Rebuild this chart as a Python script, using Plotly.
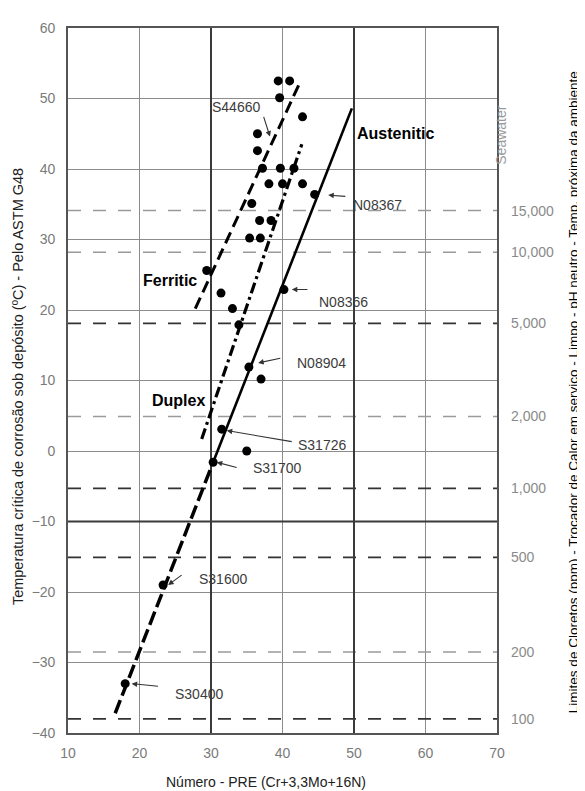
import plotly.graph_objects as go

# ---------------- data ----------------
# measured alloys: PRE number vs critical crevice temperature (°C)
pre_points = [39.4, 41.0, 39.6, 42.8, 36.5, 36.5, 37.2, 39.7, 41.6, 38.1, 40.0, 42.8,
              35.7, 36.8, 38.4, 35.4, 36.9, 44.5, 29.4, 31.4, 33.0, 33.9, 40.2, 35.3,
              37.0, 31.5, 35.0, 30.3, 23.3, 18.0]
cct_points = [52.5, 52.5, 50.1, 47.4, 45.0, 42.6, 40.1, 40.1, 40.1, 37.9, 37.9, 37.9,
              35.1, 32.7, 32.7, 30.2, 30.2, 36.4, 25.6, 22.4, 20.2, 17.9, 22.9, 11.9,
              10.2, 3.1, 0.0, -1.6, -19.0, -33.0]

# trend lines (end points)
ferritic_x = [27.8, 42.45]
ferritic_y = [20.2, 52.3]
duplex_x = [28.7, 42.7]
duplex_y = [1.7, 43.5]
austenitic_x = [30.3, 49.7]
austenitic_y = [-1.6, 48.6]
low_alloy_x = [16.6, 30.3]
low_alloy_y = [-37.2, -1.6]

# chloride limits (ppm) on the right axis and their CCT equivalents
chloride_labels = ["15,000", "10,000", "5,000", "2,000", "1,000", "500", "200", "100"]
chloride_cct = [34.1, 28.2, 18.1, 4.9, -5.3, -15.1, -28.5, -38.0]

# axis ticks
x_ticks = [10, 20, 30, 40, 50, 60, 70]
y_ticks = [-40, -30, -20, -10, 0, 10, 20, 30, 40, 50, 60]

# alloy names with the point each arrow marks
alloy_names = ["N08367", "N08366", "N08904", "S31726", "S31700", "S31600", "S30400", "S44660"]
alloy_pre = [46.4, 41.3, 36.6, 32.2, 30.8, 24.0, 18.9, 38.25]
alloy_cct = [36.3, 22.9, 12.5, 2.9, -1.6, -19.0, -33.0, 44.6]

# ---------------- figure ----------------
FONT = "Liberation Sans, Arial, sans-serif"
fig = go.Figure()

fig.add_trace(go.Scatter(x=low_alloy_x, y=low_alloy_y, mode="lines",
                         line=dict(color="black", width=3.5, dash="14px,5px"),
                         hoverinfo="skip", showlegend=False))
fig.add_trace(go.Scatter(x=ferritic_x, y=ferritic_y, mode="lines",
                         line=dict(color="black", width=3, dash="12px,6px"),
                         hoverinfo="skip", showlegend=False))
fig.add_trace(go.Scatter(x=duplex_x, y=duplex_y, mode="lines",
                         line=dict(color="black", width=3.2, dash="11px,4px,3px,4px"),
                         hoverinfo="skip", showlegend=False))
fig.add_trace(go.Scatter(x=austenitic_x, y=austenitic_y, mode="lines",
                         line=dict(color="black", width=2.6),
                         hoverinfo="skip", showlegend=False))
fig.add_trace(go.Scatter(x=pre_points, y=cct_points, mode="markers",
                         marker=dict(color="black", size=9),
                         hoverinfo="skip", showlegend=False))
# dummy trace so the right axis is drawn
fig.add_trace(go.Scatter(x=[None], y=[None], yaxis="y2", mode="markers",
                         showlegend=False, hoverinfo="skip"))

shapes = []
dark_levels = {"5,000", "1,000", "500", "100"}
for lab, yv in zip(chloride_labels, chloride_cct):
    dark = lab in dark_levels
    shapes.append(dict(type="line", xref="x", yref="y", x0=10, x1=70, y0=yv, y1=yv,
                       layer="between",
                       line=dict(color="#333333" if dark else "#9a9a9a",
                                 width=1.8 if dark else 1.5, dash="13px,12px")))
# heavier grid lines
for xv in (30, 50):
    shapes.append(dict(type="line", xref="x", yref="y", x0=xv, x1=xv, y0=-40, y1=60,
                       layer="between", line=dict(color="#3a3a3a", width=2)))
shapes.append(dict(type="line", xref="x", yref="y", x0=10, x1=70, y0=-10, y1=-10,
                   layer="between", line=dict(color="#3a3a3a", width=2)))

annotations = []
# alloy labels (text) and arrows
label_pos = {
    "N08367": (53.3, 34.9), "N08366": (48.6, 21.2), "N08904": (45.5, 12.5),
    "S31726": (45.5, 0.9), "S31700": (39.2, -2.45), "S31600": (31.7, -18.2),
    "S30400": (28.3, -34.4), "S44660": (33.5, 48.8),
}
arrow_tail = {
    "N08367": (49.0, 36.1), "N08366": (43.7, 22.9), "N08904": (39.9, 13.2),
    "S31726": (41.5, 1.3), "S31700": (33.8, -2.4), "S31600": (26.1, -17.45),
    "S30400": (22.8, -33.4), "S44660": (37.3, 47.6),
}
for name, hx, hy in zip(alloy_names, alloy_pre, alloy_cct):
    lx, ly = label_pos[name]
    annotations.append(dict(x=lx, y=ly, xref="x", yref="y", text=name, showarrow=False,
                            font=dict(family=FONT, size=14, color="#3c3c3c")))
    tx, ty = arrow_tail[name]
    annotations.append(dict(x=hx, y=hy, xref="x", yref="y", ax=tx, ay=ty,
                            axref="x", ayref="y", text="", showarrow=True,
                            arrowhead=2, arrowsize=1, arrowwidth=1.1,
                            arrowcolor="#333333"))

for txt, xv, yv in [("Ferritic", 24.3, 24.2), ("Duplex", 25.4, 7.1), ("Austenitic", 55.8, 45.1)]:
    annotations.append(dict(x=xv, y=yv, xref="x", yref="y", text="<b>%s</b>" % txt,
                            showarrow=False, font=dict(family=FONT, size=16, color="black")))

annotations.append(dict(x=1.034, y=44.8, xref="paper", yref="y", text="Seawater",
                        textangle=-90, showarrow=False,
                        font=dict(family=FONT, size=14, color="#9a9a9a")))
annotations.append(dict(x=-0.1166, y=0.492, xref="paper", yref="paper",
                        text="Temperatura crítica de corrosão sob depósito (ºC) - Pelo ASTM G48",
                        textangle=-90, showarrow=False, xanchor="center", yanchor="middle",
                        font=dict(family=FONT, size=14.5, color="#222222")))
annotations.append(dict(x=1.178, y=0.484, xref="paper", yref="paper",
                        text="Limites de Cloretos (ppm) - Trocador de Calor em serviço - Limpo - pH neutro - Temp. próxima da ambiente",
                        textangle=-90, showarrow=False, xanchor="center", yanchor="middle",
                        font=dict(family=FONT, size=13.5, color="black")))
annotations.append(dict(x=0.4615, y=-0.069, xref="paper", yref="paper",
                        text="Número - PRE (Cr+3,3Mo+16N)", showarrow=False,
                        xanchor="center", yanchor="middle",
                        font=dict(family=FONT, size=14, color="#222222")))

# the page body adds an 8px offset, so the figure is 8px smaller in each direction
fig.update_layout(
    width=577, height=783,
    margin=dict(l=60, r=88, t=14, b=58),
    paper_bgcolor="white", plot_bgcolor="white",
    showlegend=False,
    shapes=shapes, annotations=annotations,
    xaxis=dict(range=[10, 70], tickvals=x_ticks, showgrid=True, gridcolor="#8c8c8c",
               gridwidth=1.2, zeroline=False, showline=True, mirror=True,
               linecolor="#555555", linewidth=1.6, ticks="",
               tickfont=dict(family=FONT, size=14, color="#7a7a7a"),
               ticklabelstandoff=6),
    yaxis=dict(range=[-40, 60], tickvals=y_ticks, showgrid=True, gridcolor="#8c8c8c",
               gridwidth=1.2, zeroline=False, showline=True, mirror=True,
               linecolor="#555555", linewidth=1.6, ticks="",
               tickfont=dict(family=FONT, size=14, color="#7a7a7a"),
               ticklabelstandoff=8),
    yaxis2=dict(range=[-40, 60], overlaying="y", side="right", anchor="x",
                tickvals=chloride_cct, ticktext=chloride_labels, showgrid=False,
                zeroline=False, showline=False, ticks="",
                tickfont=dict(family=FONT, size=14, color="#8a8a8a"),
                ticklabelstandoff=13),
)

fig.write_html("out.html")
